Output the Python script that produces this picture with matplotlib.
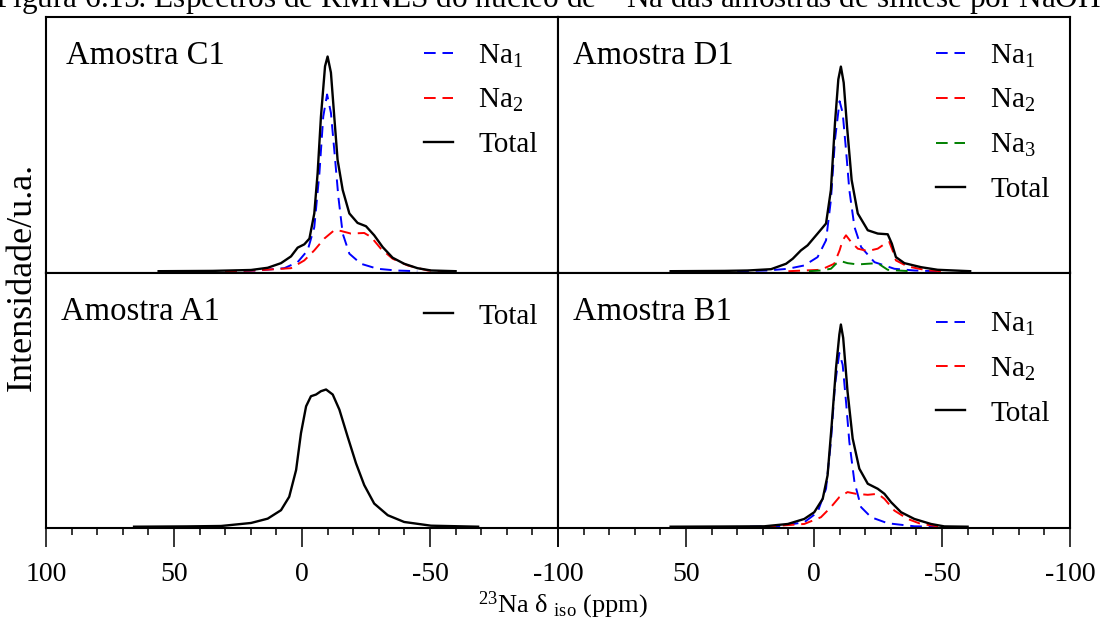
import matplotlib
matplotlib.use('Agg')
import matplotlib.pyplot as plt
from matplotlib.ticker import MultipleLocator

plt.rcParams['font.family'] = ['Liberation Serif', 'DejaVu Serif']
plt.rcParams['mathtext.fontset'] = 'custom'
plt.rcParams['mathtext.rm'] = 'Liberation Serif'
plt.rcParams['mathtext.it'] = 'Liberation Serif:italic'
plt.rcParams['axes.unicode_minus'] = False

# ---- dados (deslocamento em ppm, intensidade em u.a.) ----
# Amostra C1
c1_tot_x = [56, 35, 19.9, 13.4, 8.2, 4.3, 1.7, -0.9, -2.9, -4.8, -6.1, -7.4, -9.0, -10.0,
            -11.3, -12.6, -13.9, -15.9, -18.5, -21.7, -25.0, -28.2, -31.5, -35.4, -39.9,
            -45.1, -50.4, -60]
c1_tot_y = [0.3, 0.6, 1.5, 3.7, 8.3, 15, 23.7, 27, 32.7, 57.7, 97.7, 154, 204, 213.7,
            197.7, 154, 111, 81, 57.7, 48.3, 45, 36, 24.3, 13.7, 7.7, 3.3, 1, 0.3]
c1_na1_x = [30, 17.3, 6.9, 1.7, -2.2, -4.8, -6.8, -8.3, -9.8, -11.3, -12.6, -14.2, -15.9,
            -18.5, -23.0, -29.5, -36.8, -45]
c1_na1_y = [0.3, 1, 3.3, 9.3, 21, 44, 97.7, 154, 176, 157.7, 121, 74.3, 37.7, 17.7, 7.7,
            2.7, 1, 0.3]
c1_na2_x = [30, 18.6, 4.3, -0.9, -4.8, -8.7, -12.6, -15.2, -19.1, -24.3, -27.0, -30.8,
            -35.4, -41.3, -49.1, -55]
c1_na2_y = [0.3, 1, 3.3, 11, 21, 32.7, 41, 40.3, 37.7, 38.3, 34.3, 22.7, 12.7, 6, 1, 0.3]

# Amostra D1
d1_tot_x = [56, 35, 25.9, 16.8, 10.9, 8.3, 5.1, 2.5, -1.4, -4.7, -6.6, -8.2, -9.5, -10.5,
            -11.6, -12.9, -14.7, -17.1, -21.0, -24.9, -28.8, -30.4, -32.0, -35.3, -41.8,
            -48.3, -61]
d1_tot_y = [0.3, 0.6, 1, 2.3, 7.7, 12.7, 21, 26, 37.7, 47.7, 81, 147.7, 191, 203.7,
            187.7, 144.3, 91, 57.7, 41, 37.7, 37, 27.7, 14.3, 8.3, 4.3, 1.7, 0.3]
d1_na1_x = [30, 18.1, 10.2, 3.8, -1.4, -4.7, -6.6, -8.2, -10.0, -11.2, -12.5, -13.8, -15.8,
            -18.4, -23.6, -31.4, -39.2, -48]
d1_na1_y = [0.3, 1, 2.7, 6, 14.3, 31, 71, 131, 169.3, 157.7, 121, 81, 44.3, 24.3, 9.3, 2.7,
            1, 0.3]
d1_na2_x = [10, 3.8, -2.7, -7.9, -10.0, -11.2, -12.5, -14.5, -17.1, -21.0, -24.9, -28.1,
            -29.4, -30.7, -32.0, -36.6, -44.4, -50]
d1_na2_y = [0.3, 1, 1.7, 7.7, 21, 31, 36, 29.3, 22.7, 20.3, 22.7, 28.3, 29.3, 21, 11, 5, 1,
            0.3]
d1_na3_x = [2, -2.7, -6.6, -8.6, -10.5, -13.1, -17.1, -21.0, -24.9, -26.8, -28.8, -32.7,
            -38]
d1_na3_y = [0.3, 1, 2.7, 7.7, 10.3, 8.3, 7, 7.7, 8.3, 5, 1.7, 1, 0.3]

# Amostra A1
a1_tot_x = [65.6, 45, 31.6, 19.9, 13.4, 8.2, 5.0, 2.3, 0.4, -1.6, -3.5, -5.5, -7.4, -9.4,
            -12.0, -14.6, -17.8, -21.1, -24.3, -28.2, -33.5, -39.9, -50.4, -68.8]
a1_tot_y = [0.3, 0.6, 1, 4, 8.3, 16.7, 30, 56.7, 93.3, 120, 130, 131.7, 135, 136.7, 131.7,
            116.7, 90, 63.3, 41.7, 23.3, 11.7, 5, 1.3, 0.3]

# Amostra B1
b1_tot_x = [56, 35, 19.4, 10.2, 3.8, -0.1, -3.4, -5.3, -6.9, -8.6, -9.9, -10.5, -11.4,
            -13.1, -15.1, -17.7, -21.0, -24.9, -27.5, -30.1, -34.0, -39.2, -45.7, -50.9,
            -60]
b1_tot_y = [0.3, 0.5, 0.7, 3, 8, 14.7, 28, 51.3, 101.3, 158, 191.3, 201.3, 188, 134.7, 88,
            58, 43, 38, 33, 24.7, 14.7, 8, 3, 0.6, 0.3]
b1_na1_x = [25, 14.2, 3.8, -1.4, -4.7, -6.6, -8.2, -9.9, -11.2, -12.5, -13.8, -15.8, -18.4,
            -22.3, -28.8, -39.2, -48]
b1_na1_y = [0.3, 0.7, 4.7, 14.7, 38, 84.7, 141.3, 173, 161.3, 124.7, 84.7, 44.7, 19.7, 9.7,
            3.7, 0.7, 0.3]
b1_na2_x = [19.4, 3.8, -2.7, -6.6, -9.9, -13.1, -16.4, -21.0, -24.9, -27.5, -31.4, -36.6,
            -41.8, -49.6]
b1_na2_y = [0.3, 3, 9.7, 19.7, 29.7, 34.7, 33, 32, 33, 28, 16.3, 8, 3, 0.3]

ticks_x = [100, 50, 0, -50, -100]
ticks_rot = ['100', '50', '0', '-50', '-100']

paineis = [
    ('Amostra C1', [(c1_na1_x, c1_na1_y, 'Na$_1$', 'blue', True),
                    (c1_na2_x, c1_na2_y, 'Na$_2$', 'red', True),
                    (c1_tot_x, c1_tot_y, 'Total', 'black', False)]),
    ('Amostra D1', [(d1_na1_x, d1_na1_y, 'Na$_1$', 'blue', True),
                    (d1_na2_x, d1_na2_y, 'Na$_2$', 'red', True),
                    (d1_na3_x, d1_na3_y, 'Na$_3$', 'green', True),
                    (d1_tot_x, d1_tot_y, 'Total', 'black', False)]),
    ('Amostra A1', [(a1_tot_x, a1_tot_y, 'Total', 'black', False)]),
    ('Amostra B1', [(b1_na1_x, b1_na1_y, 'Na$_1$', 'blue', True),
                    (b1_na2_x, b1_na2_y, 'Na$_2$', 'red', True),
                    (b1_tot_x, b1_tot_y, 'Total', 'black', False)]),
]
# posicao do rotulo de cada painel e ancora da legenda (fracao dos eixos)
pos_titulo = [(0.040, 0.818), (0.029, 0.818), (0.029, 0.814), (0.029, 0.814)]
pos_legenda = [(1.0, 0.98), (1.0, 0.98), (1.0, 0.96), (1.0, 0.93)]

W, H = 1101, 637
fig, axes = plt.subplots(2, 2, figsize=(W / 100, H / 100), dpi=100)
fig.subplots_adjust(left=46 / W, right=1070 / W, top=1 - 17 / H, bottom=1 - 528 / H,
                    wspace=0, hspace=0)

for i, (ax, (titulo, curvas)) in enumerate(zip(axes.flat, paineis)):
    for x, y, rot, cor, tracejado in curvas:
        if tracejado:
            ax.plot(x, y, color=cor, lw=1.4, dashes=(6, 3.5), label=rot)
        else:
            ax.plot(x, y, color=cor, lw=1.7, label=rot)
    ax.set_xlim(100, -100)
    ax.set_ylim(-1, 253)
    ax.set_yticks([])
    ax.set_xticks(ticks_x)
    if i == 3:
        ax.set_xticklabels([''] + ticks_rot[1:])
    else:
        ax.set_xticklabels(ticks_rot)
    ax.xaxis.set_minor_locator(MultipleLocator(10))
    ax.tick_params(axis='x', which='major', direction='out', length=13.7, width=1.1,
                   labelsize=20, pad=11)
    ax.tick_params(axis='x', which='minor', direction='out', length=5, width=1.1)
    if i < 2:
        ax.tick_params(axis='x', which='both', labelbottom=False)
    for sp in ax.spines.values():
        sp.set_linewidth(1.5)
    tx, ty = pos_titulo[i]
    ax.text(tx, ty, titulo, transform=ax.transAxes, fontsize=23.5, va='baseline',
            ha='left')
    ax.legend(loc='upper right', bbox_to_anchor=pos_legenda[i], frameon=False,
              fontsize=21, handlelength=1.0, handletextpad=0.85, labelspacing=0.6,
              borderaxespad=0.3)

fig.text(-5 / W, 1 - 8 / H, 'Figura 6.15: Espectros de RMNES do núcleo de $^{23}$Na das '
         'amostras de síntese por NaOH', fontsize=22.5, ha='left', va='baseline')
fig.text(563 / W, 1 - 612 / H, '$^{23}$Na δ $_{\\rm iso}$ (ppm)', fontsize=19,
         ha='center', va='baseline')
fig.text(22 / W, 1 - 277 / H, 'Intensidade/u.a.', fontsize=26, rotation=90,
         ha='center', va='center')

fig.savefig('out.png', dpi=100)
